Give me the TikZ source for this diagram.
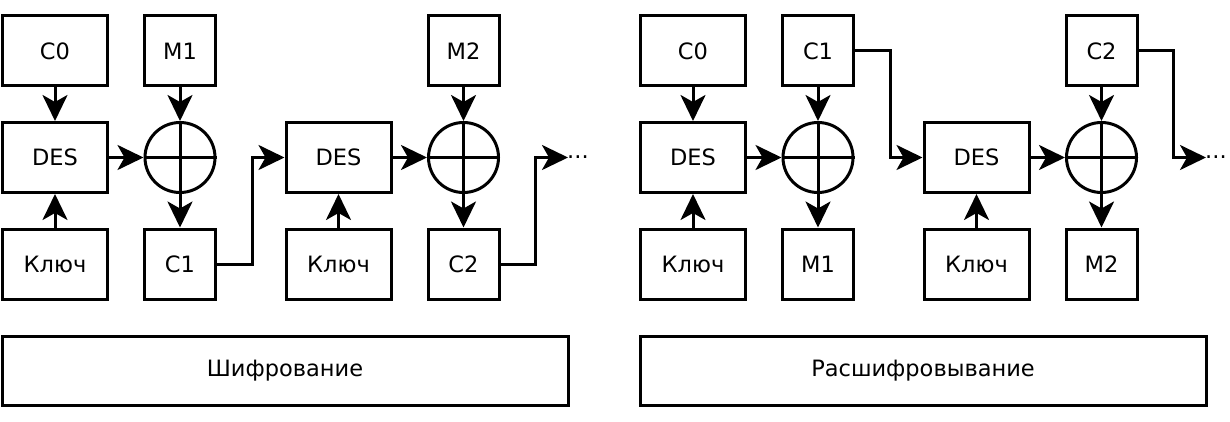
\documentclass[tikz,border=0pt]{standalone}
\usepackage{fontspec}
\setmainfont{DejaVu Sans}
\usetikzlibrary{arrows.meta}
\begin{document}
\begin{tikzpicture}[x=1pt,y=-1pt,
  box/.style={draw,line width=3pt,inner sep=0pt,minimum height=70pt,font=\fontsize{22.5}{27}\selectfont},
  wbox/.style={box,minimum width=105pt},
  nbox/.style={box,minimum width=71pt},
  xorc/.style={draw,circle,line width=3pt,minimum size=70pt,inner sep=0pt},
  conn/.style={line width=3pt},
  arr/.style={conn,-{Stealth[length=26pt,width=25pt,inset=7pt]}},
  dots/.style={inner sep=0pt,anchor=base west,font=\fontsize{22.5}{27}\selectfont}
]
\useasboundingbox (0,0) rectangle (1230,422);

% ---------- encryption ----------
\node[wbox] (c0a) at (55,51) {C0};
\node[nbox] (m1a) at (180,51) {M1};
\node[wbox] (desa1) at (55,157.5) {DES};
\node[xorc] (xa1) at (180,157.5) {};
\node[wbox] (ka1) at (55,264) {Ключ};
\node[nbox] (c1a) at (180,264) {C1};

\node[wbox] (desa2) at (338.5,157.5) {DES};
\node[wbox] (ka2) at (338.5,264) {Ключ};
\node[nbox] (m2a) at (463.5,51) {M2};
\node[xorc] (xa2) at (463.5,157.5) {};
\node[nbox] (c2a) at (463.5,264) {C2};
\coordinate (enda) at (568,157.5);
\node[dots] (dotsa) at (567,159) {...};

\node[box,minimum width=566pt,minimum height=69pt] (enc) at (285,370.5) {Шифрование};

\draw[conn] (xa1.north) -- (xa1.south) (xa1.west) -- (xa1.east);
\draw[conn] (xa2.north) -- (xa2.south) (xa2.west) -- (xa2.east);

\draw[arr] (c0a) -- (desa1);
\draw[arr] (ka1) -- (desa1);
\draw[arr] (desa1) -- (xa1);
\draw[arr] (m1a) -- (xa1);
\draw[arr] (xa1) -- (c1a);
\draw[arr] (c1a.east) -- ++(35,0) |- (desa2.west);
\draw[arr] (ka2) -- (desa2);
\draw[arr] (desa2) -- (xa2);
\draw[arr] (m2a) -- (xa2);
\draw[arr] (xa2) -- (c2a);
\draw[arr] (c2a.east) -- ++(35,0) |- (enda);

% ---------- decryption ----------
\node[wbox] (c0b) at (693,51) {C0};
\node[nbox] (c1b) at (818,51) {C1};
\node[wbox] (desb1) at (693,157.5) {DES};
\node[xorc] (xb1) at (818,157.5) {};
\node[wbox] (kb1) at (693,264) {Ключ};
\node[nbox] (m1b) at (818,264) {M1};

\node[wbox] (desb2) at (976.5,157.5) {DES};
\node[wbox] (kb2) at (976.5,264) {Ключ};
\node[nbox] (c2b) at (1101.5,51) {C2};
\node[xorc] (xb2) at (1101.5,157.5) {};
\node[nbox] (m2b) at (1101.5,264) {M2};
\coordinate (endb) at (1206,157.5);
\node[dots] (dotsb) at (1205,159) {...};

\node[box,minimum width=566pt,minimum height=69pt] (dec) at (923,370.5) {Расшифровывание};

\draw[conn] (xb1.north) -- (xb1.south) (xb1.west) -- (xb1.east);
\draw[conn] (xb2.north) -- (xb2.south) (xb2.west) -- (xb2.east);

\draw[arr] (c0b) -- (desb1);
\draw[arr] (kb1) -- (desb1);
\draw[arr] (desb1) -- (xb1);
\draw[arr] (c1b) -- (xb1);
\draw[arr] (xb1) -- (m1b);
\draw[arr] (c1b.east) -- ++(35,0) |- (desb2.west);
\draw[arr] (kb2) -- (desb2);
\draw[arr] (desb2) -- (xb2);
\draw[arr] (c2b) -- (xb2);
\draw[arr] (xb2) -- (m2b);
\draw[arr] (c2b.east) -- ++(35,0) |- (endb);
\end{tikzpicture}
\end{document}
